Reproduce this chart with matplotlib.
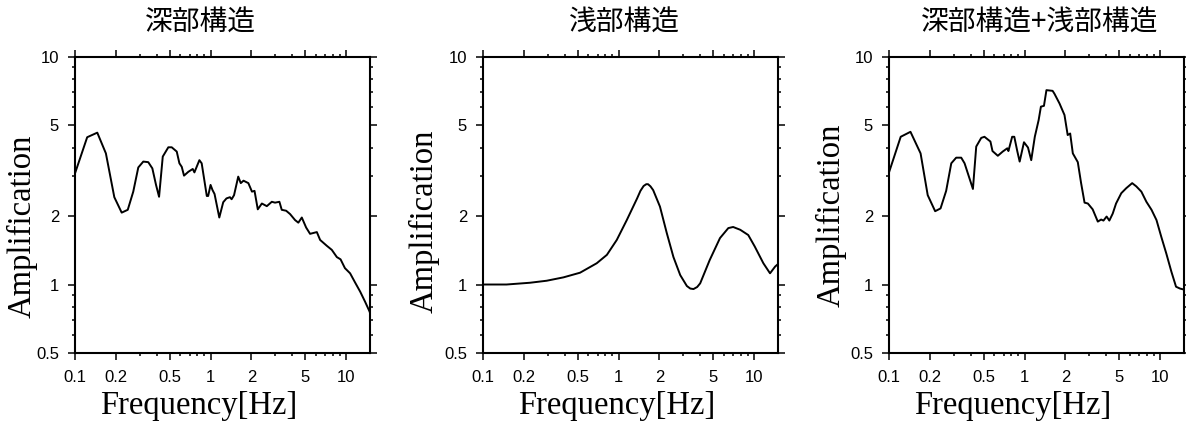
import matplotlib
matplotlib.use("Agg")
import matplotlib.pyplot as plt
from matplotlib.ticker import FixedLocator, NullFormatter, FixedFormatter

# ---- data: site amplification spectra ----
deep_freq = [0.1, 0.123, 0.146, 0.169, 0.195, 0.221, 0.245, 0.269, 0.293, 0.319,
             0.347, 0.372, 0.396, 0.417, 0.444, 0.488, 0.517, 0.563, 0.589, 0.613,
             0.637, 0.686, 0.739, 0.76, 0.827, 0.86, 0.895, 0.938, 0.96, 1.0,
             1.034, 1.07, 1.16, 1.24, 1.31, 1.39, 1.43, 1.49, 1.60, 1.67,
             1.75, 1.90, 2.02, 2.11, 2.23, 2.39, 2.60, 2.83, 2.99, 3.22,
             3.35, 3.61, 3.86, 4.2, 4.44, 4.71, 5.07, 5.42, 6.08, 6.43,
             7.2, 7.84, 8.54, 9.1, 9.8, 10.7, 11.65, 12.7, 13.8, 14.9, 15.0]
deep_amp = [3.08, 4.44, 4.65, 3.77, 2.42, 2.07, 2.13, 2.56, 3.27, 3.47,
            3.45, 3.24, 2.74, 2.43, 3.65, 4.01, 4.01, 3.84, 3.41, 3.29,
            3.01, 3.13, 3.22, 3.11, 3.52, 3.41, 2.93, 2.45, 2.45, 2.74,
            2.60, 2.50, 1.97, 2.30, 2.39, 2.42, 2.37, 2.47, 2.98, 2.79,
            2.86, 2.79, 2.56, 2.58, 2.14, 2.27, 2.21, 2.31, 2.29, 2.31,
            2.13, 2.11, 2.04, 1.92, 1.87, 1.97, 1.78, 1.67, 1.70, 1.57,
            1.48, 1.42, 1.32, 1.29, 1.18, 1.12, 1.02, 0.93, 0.84, 0.76, 0.75]

shallow_freq = [0.1, 0.149, 0.222, 0.295, 0.392, 0.52, 0.69, 0.82, 0.97, 1.15,
                1.37, 1.45, 1.53, 1.60, 1.65, 1.72, 1.8, 2.02, 2.27, 2.54,
                2.85, 3.19, 3.38, 3.57, 3.8, 4.0, 4.7, 5.6, 6.45, 7.0,
                7.9, 9.05, 10.1, 11.7, 13.1, 14.3, 15.0]
shallow_amp = [1.0, 1.0, 1.018, 1.039, 1.075, 1.127, 1.24, 1.35, 1.57, 1.92,
               2.39, 2.58, 2.71, 2.76, 2.76, 2.70, 2.60, 2.20, 1.68, 1.32,
               1.10, 0.985, 0.96, 0.955, 0.975, 1.012, 1.28, 1.60, 1.77, 1.79,
               1.74, 1.65, 1.47, 1.24, 1.12, 1.20, 1.23]

total_freq = [0.1, 0.122, 0.144, 0.171, 0.193, 0.219, 0.24, 0.264, 0.288, 0.313,
              0.341, 0.361, 0.416, 0.44, 0.479, 0.506, 0.56, 0.58, 0.635, 0.69,
              0.746, 0.76, 0.81, 0.84, 0.885, 0.92, 0.99, 1.06, 1.12, 1.19,
              1.27, 1.32, 1.39, 1.45, 1.61, 1.66, 1.81, 1.97, 2.08, 2.17,
              2.27, 2.47, 2.61, 2.77, 2.93, 3.18, 3.47, 3.67, 3.82, 4.03,
              4.22, 4.47, 4.73, 5.17, 5.62, 6.22, 6.67, 7.27, 7.92, 8.64,
              9.4, 10.2, 11.1, 12.1, 13.1, 14.0, 15.0]
total_amp = [3.11, 4.46, 4.69, 3.77, 2.47, 2.10, 2.16, 2.58, 3.41, 3.61,
             3.61, 3.41, 2.63, 4.04, 4.41, 4.46, 4.25, 3.86, 3.68, 3.84,
             3.97, 3.86, 4.46, 4.46, 3.84, 3.47, 4.22, 4.0, 3.52, 4.46,
             5.28, 6.05, 6.1, 7.15, 7.1, 6.9, 6.25, 5.56, 4.54, 4.61,
             3.77, 3.45, 2.80, 2.29, 2.27, 2.14, 1.89, 1.93, 1.91, 1.99,
             1.91, 2.05, 2.27, 2.52, 2.65, 2.79, 2.70, 2.56, 2.31, 2.13,
             1.92, 1.62, 1.37, 1.14, 0.978, 0.96, 0.95]

titles = ["深部構造", "浅部構造", "深部構造+浅部構造"]

x_major = [0.1, 0.2, 0.5, 1, 2, 5, 10]
x_major_labels = ["0.1", "0.2", "0.5", "1", "2", "5", "10"]
x_minor = [0.3, 0.4, 0.6, 0.7, 0.8, 0.9, 3, 4, 6, 7, 8, 9]
y_major = [0.5, 1, 2, 5, 10]
y_major_labels = ["0.5", "1", "2", "5", "10"]
y_minor = [0.6, 0.7, 0.8, 0.9, 3, 4, 6, 7, 8, 9]

# ---- layout (pixel geometry of the 1186 x 425 canvas) ----
W, H = 1186, 425
fig = plt.figure(figsize=(W / 100, H / 100), dpi=100)

panels = [
    dict(left=75, freq=deep_freq, amp=deep_amp, title_x=200, ylab=(22.5, 226), xlab_x=199),
    dict(left=483, freq=shallow_freq, amp=shallow_amp, title_x=624, ylab=(424, 221), xlab_x=617),
    dict(left=889, freq=total_freq, amp=total_amp, title_x=1040, ylab=(831, 215), xlab_x=1013),
]
ax_w, ax_top, ax_bottom = 295, 57, 353

serif = ["Liberation Serif", "DejaVu Serif"]
sans = ["Liberation Sans", "DejaVu Sans"]
cjk = ["Noto Sans CJK JP", "DejaVu Sans"]

for p, title in zip(panels, titles):
    ax = fig.add_axes([p["left"] / W, 1 - ax_bottom / H, ax_w / W, (ax_bottom - ax_top) / H])
    ax.plot(p["freq"], p["amp"], color="black", lw=1.4, solid_joinstyle="round")
    ax.set_xscale("log")
    ax.set_yscale("log")
    ax.set_xlim(0.1, 15)
    ax.set_ylim(0.5, 10)

    ax.xaxis.set_major_locator(FixedLocator(x_major))
    ax.xaxis.set_major_formatter(FixedFormatter(x_major_labels))
    ax.xaxis.set_minor_locator(FixedLocator(x_minor))
    ax.xaxis.set_minor_formatter(NullFormatter())
    ax.yaxis.set_major_locator(FixedLocator(y_major))
    ax.yaxis.set_major_formatter(FixedFormatter(y_major_labels))
    ax.yaxis.set_minor_locator(FixedLocator(y_minor))
    ax.yaxis.set_minor_formatter(NullFormatter())

    ax.tick_params(which="both", direction="out", top=True, right=True,
                   labeltop=False, labelright=False, width=1.1, color="black")
    ax.tick_params(which="major", length=5)
    ax.tick_params(which="minor", length=2.5)
    ax.tick_params(axis="x", which="major", pad=7.5)
    ax.tick_params(axis="y", which="major", pad=6.5)
    for lab in ax.get_xticklabels() + ax.get_yticklabels():
        lab.set_family(sans)
        lab.set_fontsize(12)
    for s in ax.spines.values():
        s.set_linewidth(1.5)

    fig.text(p["title_x"] / W, 1 - 23 / H, title, family=cjk, fontsize=20,
             ha="center", va="center")
    fig.text(p["ylab"][0] / W, 1 - p["ylab"][1] / H, "Amplification", family=serif,
             fontsize=23.5, rotation=90, ha="center", va="center")
    fig.text(p["xlab_x"] / W, 1 - 414 / H, "Frequency[Hz]", family=serif,
             fontsize=23.5, ha="center", va="baseline")

fig.savefig("out.png", dpi=100)
